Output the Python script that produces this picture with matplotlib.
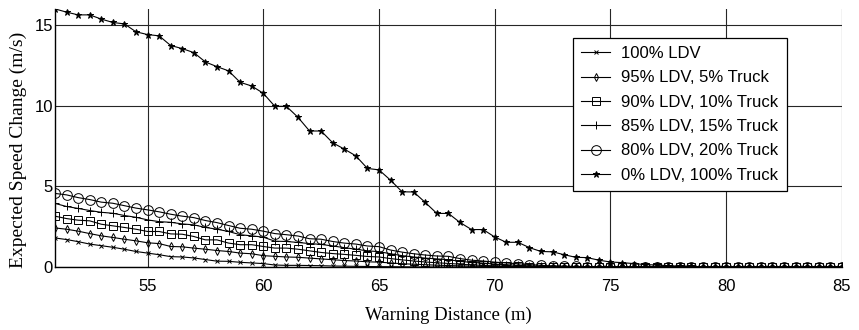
import numpy as np
import matplotlib
matplotlib.use("Agg")
import matplotlib.pyplot as plt

distance = np.arange(51, 85.01, 0.5)

truck_100 = [16.0, 15.8, 15.63, 15.63, 15.37, 15.16, 15.07, 14.58, 14.41, 14.33,
             13.73, 13.54, 13.29, 12.71, 12.42, 12.16, 11.45, 11.22, 10.77, 9.96,
             9.96, 9.28, 8.43, 8.43, 7.70, 7.31, 6.89, 6.11, 6.02, 5.38,
             4.66, 4.65, 4.0, 3.32, 3.32, 2.76, 2.32, 2.32, 1.86, 1.53,
             1.53, 1.20, 0.96, 0.94, 0.76, 0.6, 0.58, 0.42, 0.31, 0.27,
             0.21, 0.15, 0.12, 0.08, 0.05, 0.03, 0.02, 0.01, 0.0, 0.0,
             0.0, 0.0, 0.0, 0.0, 0.0, 0.0, 0.0, 0.0, 0.0]

ldv80 = [4.56, 4.47, 4.3, 4.18, 4.02, 3.95, 3.8, 3.65, 3.54, 3.42,
         3.27, 3.15, 3.06, 2.88, 2.75, 2.57, 2.4, 2.34, 2.22, 2.07,
         2.0, 1.92, 1.75, 1.72, 1.58, 1.48, 1.42, 1.3, 1.26, 1.05,
         0.92, 0.82, 0.74, 0.68, 0.66, 0.52, 0.42, 0.37, 0.3, 0.25,
         0.2, 0.15, 0.1, 0.07, 0.05, 0.03, 0.02, 0.01] + [0.0] * 21

ldv85 = [3.94, 3.75, 3.63, 3.5, 3.39, 3.33, 3.19, 3.08, 2.92, 2.81,
         2.77, 2.67, 2.61, 2.45, 2.34, 2.2, 2.0, 1.93, 1.85, 1.6,
         1.58, 1.52, 1.45, 1.4, 1.3, 1.2, 1.1, 1.0, 0.95, 0.82,
         0.7, 0.62, 0.55, 0.5, 0.45, 0.35, 0.28, 0.24, 0.18, 0.14,
         0.1, 0.07, 0.05, 0.03, 0.02, 0.01] + [0.0] * 23

ldv90 = [3.15, 3.0, 2.9, 2.86, 2.65, 2.55, 2.45, 2.34, 2.2, 2.2,
         2.05, 2.03, 1.89, 1.68, 1.68, 1.48, 1.38, 1.38, 1.27, 1.17,
         1.17, 1.1, 1.0, 0.9, 0.83, 0.78, 0.72, 0.65, 0.62, 0.52,
         0.44, 0.37, 0.31, 0.26, 0.22, 0.17, 0.13, 0.1, 0.07, 0.05,
         0.03, 0.02, 0.01] + [0.0] * 26

ldv95 = [2.42, 2.34, 2.22, 2.07, 1.93, 1.83, 1.72, 1.62, 1.5, 1.45,
         1.27, 1.25, 1.17, 1.1, 1.02, 0.96, 0.86, 0.82, 0.7, 0.66,
         0.62, 0.6, 0.55, 0.5, 0.45, 0.4, 0.37, 0.32, 0.3, 0.25,
         0.2, 0.17, 0.14, 0.11, 0.09, 0.07, 0.05, 0.04, 0.03, 0.02,
         0.01] + [0.0] * 28

ldv100 = [1.8, 1.7, 1.57, 1.42, 1.32, 1.22, 1.1, 0.96, 0.86, 0.76,
          0.64, 0.62, 0.56, 0.46, 0.36, 0.35, 0.29, 0.25, 0.21, 0.12,
          0.1, 0.1, 0.09, 0.08, 0.06, 0.05, 0.04, 0.03, 0.02, 0.015,
          0.01, 0.005] + [0.0] * 37

labels = ["100% LDV", "95% LDV, 5% Truck", "90% LDV, 10% Truck",
          "85% LDV, 15% Truck", "80% LDV, 20% Truck", "0% LDV, 100% Truck"]

x_ticks = [55, 60, 65, 70, 75, 80, 85]
y_ticks = [0, 5, 10, 15]

fig = plt.figure(figsize=(8.59, 3.30), dpi=100)
ax = fig.add_axes([0.064, 0.191, 0.916, 0.782])

series = [ldv100, ldv95, ldv90, ldv85, ldv80, truck_100]
styles = [
    dict(marker="x", markersize=2.5, markerfacecolor="none"),
    dict(marker="d", markersize=4, markerfacecolor="none"),
    dict(marker="s", markersize=5.5, markerfacecolor="none"),
    dict(marker="+", markersize=6),
    dict(marker="o", markersize=7, markerfacecolor="none"),
    dict(marker="*", markersize=4.5, markerfacecolor="black"),
]
for ys, lab, st in zip(series, labels, styles):
    ax.plot(distance, ys, color="black", linewidth=0.8,
            markeredgecolor="black", markeredgewidth=0.7, label=lab, **st)

ax.set_xlim(51, 85)
ax.set_ylim(0, 16)
ax.set_xticks(x_ticks)
ax.set_yticks(y_ticks)
ax.grid(True, color="0.15", linewidth=0.8)
ax.set_axisbelow(True)
ax.tick_params(length=0, labelsize=12)
ax.tick_params(axis="x", pad=9)
ax.tick_params(axis="y", pad=1.5)
for t in ax.get_xticklabels() + ax.get_yticklabels():
    t.set_fontfamily("Liberation Sans")
for sp in ax.spines.values():
    sp.set_visible(False)
ax.spines["left"].set_visible(True)
ax.spines["bottom"].set_visible(True)
ax.spines["left"].set_linewidth(1.0)
ax.spines["bottom"].set_linewidth(1.0)

ax.set_xlabel("Warning Distance (m)", fontfamily="Liberation Serif", fontsize=13.5, labelpad=9)
ax.set_ylabel("Expected Speed Change (m/s)", fontfamily="Liberation Serif", fontsize=14)
ax.yaxis.set_label_coords(-0.036, 0.455)

leg = ax.legend(loc="upper left", bbox_to_anchor=(0.658, 0.888), frameon=True,
                fancybox=False, edgecolor="black", framealpha=1,
                prop={"family": "Liberation Sans", "size": 12},
                labelspacing=0.56, handlelength=1.75, borderpad=0.5,
                handletextpad=0.65, borderaxespad=0)
leg.get_frame().set_linewidth(0.9)

fig.savefig("out.png", dpi=100)
